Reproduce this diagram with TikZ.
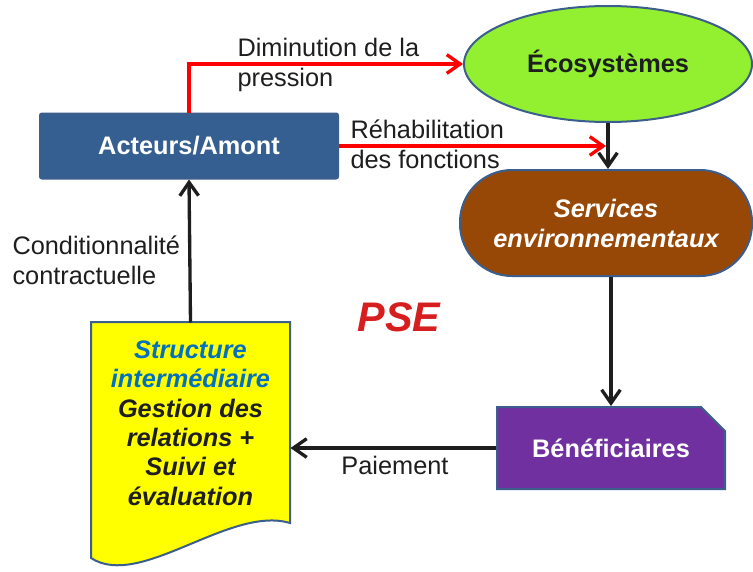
\documentclass[tikz,border=0pt]{standalone}
\usepackage{fontspec}
\setmainfont{Liberation Sans}
\usetikzlibrary{arrows.meta,shapes.geometric,shapes.misc}

\tikzset{every picture/.style={line width=0.75pt}}
\tikzset{
	every node/.style={inner sep=0pt, font=\fontsize{19}{22.5}\selectfont},
	bloc/.style={draw={rgb, 255:red, 59; green, 94; blue, 140 }, line width=1.5, text=white, font=\fontsize{19}{22.5}\selectfont\bfseries},
	lbl/.style={anchor=west, align=left, text={rgb, 255:red, 30; green, 30; blue, 30 }},
	fleche/.style={-{Straight Barb[length=10pt,width=14pt]}, line width=2.5},
	rouge/.style={fleche, draw={rgb, 255:red, 255; green, 0; blue, 0 }},
	noire/.style={fleche, draw={rgb, 255:red, 30; green, 30; blue, 30 }}
}

\begin{document}
\begin{tikzpicture}[x=0.75pt,y=0.75pt,yscale=-1,xscale=1]
	\useasboundingbox (0,0) rectangle (753,571);

	%Shape: Rectangle [Acteurs]
	\node (act) [bloc, rectangle, rounded corners=1.5, fill={rgb, 255:red, 54; green, 95; blue, 145 }, minimum width=223.5pt, minimum height=48.75pt] at (189,146) {Acteurs/Amont};
	%Shape: Ellipse [Ecosystemes]
	\node (eco) [bloc, ellipse, text={rgb, 255:red, 30; green, 30; blue, 30 }, fill={rgb, 255:red, 146; green, 240; blue, 48 }, minimum width=216pt, minimum height=87pt] at (608,64) {Écosystèmes};
	%Shape: Rounded Rect [Services]
	\node (serv) [bloc, rectangle, rounded corners=39pt, fill={rgb, 255:red, 152; green, 72; blue, 6 }, minimum width=219pt, minimum height=79.5pt, align=center, font=\fontsize{19}{22.5}\selectfont\bfseries\itshape] at (606,223) {Services\\environnementaux};
	%Shape: Chamfered Rect [Beneficiaires]
	\node (benef) [bloc, chamfered rectangle, chamfered rectangle corners=north east, chamfered rectangle xsep=11pt, chamfered rectangle ysep=11pt, fill={rgb, 255:red, 112; green, 48; blue, 160 }, minimum width=171pt, minimum height=61.5pt] at (611,448) {Bénéficiaires};

	%Shape: Document [Structure]
	\draw [draw={rgb, 255:red, 59; green, 94; blue, 140 }, line width=1.5, fill={rgb, 255:red, 255; green, 255; blue, 0 }] (91,322) -- (290,322) -- (290,523) .. controls (230,505) and (140,590) .. (91,558) -- cycle ;
	\node (doc) [minimum width=149.25pt, minimum height=150pt, align=center, text={rgb, 255:red, 30; green, 30; blue, 30 }, font=\fontsize{19}{22}\selectfont\bfseries\itshape] at (190.5,423) {\textcolor[RGB]{0,112,192}{Structure}\\\textcolor[RGB]{0,112,192}{intermédiaire}\\Gestion des\\relations +\\Suivi et\\évaluation};

	%Straight Lines [connecteurs]
	\coordinate (rehab) at (606,146);
	\draw [rouge] (act.north) |- (eco.west);
	\draw [rouge] (act.east) -- (rehab);
	\draw [noire] (eco.south) -- (eco.south |- serv.north);
	\draw [noire] (benef.north |- serv.south) -- (benef.north);
	\draw [noire] (benef.west) -- (benef.west -| doc.east);
	\draw [noire] (doc.north) -- (act.south);

	% Text Node
	\node (dimlbl) [lbl] at (237,65) {Diminution de la\\pression};
	% Text Node
	\node (rehlbl) [lbl] at (350,144) {Réhabilitation\\des fonctions};
	% Text Node
	\node (condlbl) [lbl] at (12,260) {Conditionnalité\\contractuelle};
	% Text Node
	\node (paielbl) [text={rgb, 255:red, 30; green, 30; blue, 30 }] at (395,465) {Paiement};
	% Text Node
	\node (pse) [text={rgb, 255:red, 215; green, 30; blue, 30 }, font=\fontsize{31}{31}\selectfont\bfseries\itshape] at (399,317) {PSE};

\end{tikzpicture}
\end{document}
